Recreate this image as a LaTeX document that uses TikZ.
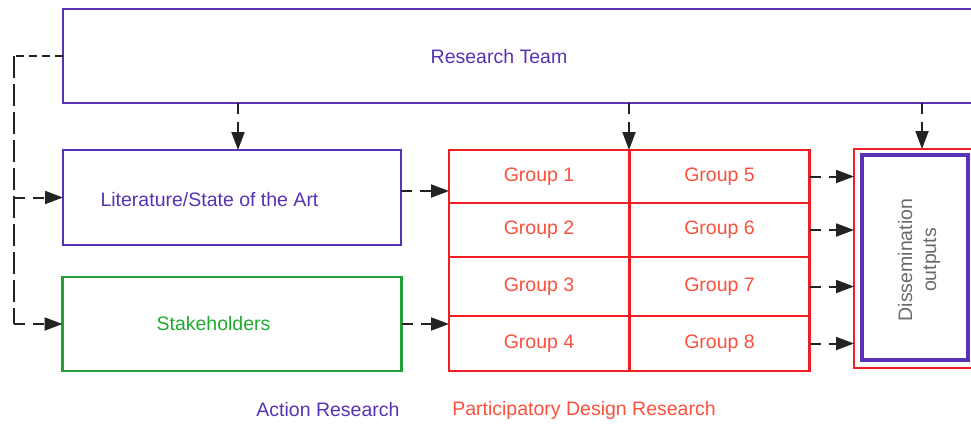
\documentclass[tikz,border=0pt]{standalone}
\usepackage{fontspec}
\setmainfont{Liberation Sans}
\usetikzlibrary{arrows.meta}
\definecolor{rtpurple}{RGB}{88,50,180}
\definecolor{pdred}{RGB}{240,30,35}
\definecolor{pdtext}{RGB}{250,80,60}
\definecolor{shgreen}{RGB}{35,160,55}
\definecolor{shtext}{RGB}{30,170,45}
\definecolor{dogray}{RGB}{105,105,105}
\definecolor{arrowgray}{RGB}{35,35,35}
\tikzset{
box/.style={draw, rectangle, line width=2.8pt, inner sep=0pt, outer sep=0pt},
purplebox/.style={box, draw=rtpurple},
greenbox/.style={box, draw=shgreen},
group/.style={box, draw=pdred, minimum width=180pt, text=pdtext, font=\fontsize{19.5}{24}\selectfont},
txt/.style={font=\fontsize{19.5}{24}\selectfont, inner sep=0pt},
flow/.style={draw=arrowgray, line width=2pt, dash pattern=on 11pt off 8pt,
  -{Triangle[length=18pt,width=13pt]}},
longdash/.style={draw=arrowgray, line width=2pt, dash pattern=on 22pt off 6pt}
}

\begin{document}
\begin{tikzpicture}[x=1pt,y=-1pt]
\clip (0,0) rectangle (971,426);
\node[purplebox, minimum width=927pt, minimum height=94pt] (team) at (526.5,56) {};
\node[txt, text=rtpurple] (teamlabel) at (499,57) {Research Team};
\node[purplebox, minimum width=338pt, minimum height=95pt] (lit) at (232,197.5) {};
\node[txt, text=rtpurple] (litlabel) at (209.5,200) {Literature/State of the Art};
\node[greenbox, minimum width=339pt, minimum height=94pt] (stake) at (232,324) {};
\node[txt, text=shtext] (stakelabel) at (213.5,324) {Stakeholders};

\foreach \i/\j/\y/\h in {1/5/176.5/53, 2/6/230/54, 3/7/286.5/59, 4/8/343.5/55}{
  \node[group, minimum height=\h pt] (g\i) at (539,\y) {Group \i};
  \node[group, minimum height=\h pt] (g\j) at (719.5,\y) {Group \j};
}

\node[box, draw=pdred, minimum width=122pt, minimum height=219pt] (diss) at (915,258.5) {};
\node[box, draw=rtpurple, line width=4.8pt, minimum width=106pt, minimum height=205pt] (dissin) at (915,257.5) {};
\node[txt, text=dogray, rotate=90, align=center] (disslabel) at (919,260) {Dissemination\\outputs};

\node[txt, text=rtpurple] (arlabel) at (328,410) {Action Research};
\node[txt, text=pdtext] (pdlabel) at (584,410) {Participatory Design Research};

\coordinate (litin) at ([xshift=6pt]lit.north);
\coordinate (dissin top) at ([xshift=7pt]diss.north);
\draw[flow] (litin |- team.south) -- (litin);
\draw[flow] (g1.north east |- team.south) -- (g1.north east);
\draw[flow] (dissin top |- team.south) -- (dissin top);

\coordinate (bend) at (14,56);
\draw[flow, -, dash pattern=on 8pt off 5pt] (team.west) -- (bend);
\draw[longdash] (bend) -- (bend |- stake.west);
\draw[flow] (bend |- lit.west) -- (lit.west);
\draw[flow] (bend |- stake.west) -- (stake.west);

\coordinate (litout) at ([yshift=6.5pt]lit.east);
\draw[flow] (litout) -- (litout -| g1.west);
\draw[flow] (stake.east) -- (stake.east -| g4.west);

\foreach \j in {5,6,7,8}{
  \draw[flow] (g\j.east) -- (g\j.east -| diss.west);
}
\end{tikzpicture}
\end{document}
